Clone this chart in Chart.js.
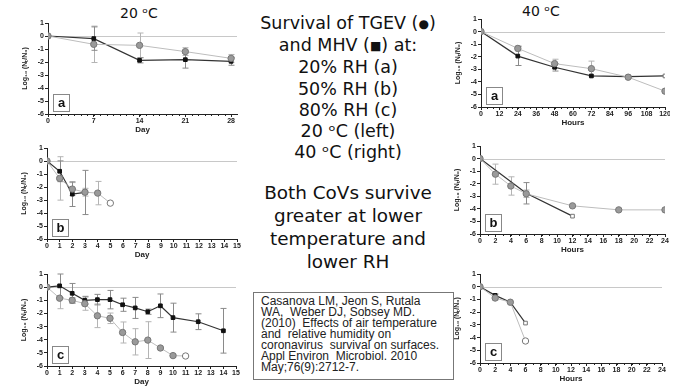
<!DOCTYPE html>
<html>
<head>
<meta charset="utf-8">
<script src="https://cdn.jsdelivr.net/npm/chart.js@4/dist/chart.umd.min.js"></script>
<style>
body { margin: 0; background: #fff; width: 688px; height: 386px; overflow: hidden; position: relative; font-family: "DejaVu Sans", sans-serif; color: #111; }
canvas { position: absolute; }
.ttl { position: absolute; font-size: 14px; }
.mid { position: absolute; left: 248px; width: 200px; text-align: center; }
.sm { font-size: 12px; vertical-align: 1px; }
.cite { position: absolute; left: 253px; top: 292px; width: 201px; height: 88px; border: 1px solid #777; box-sizing: border-box;
        font-family: "Liberation Sans", Arial, sans-serif; font-size: 12px; line-height: 11px; padding: 3px 0 0 7px; color: #222; white-space: nowrap; }
</style>
</head>
<body>
<div class="ttl" style="left:120px;top:5px">20 ᵒC</div>
<div class="ttl" style="left:522px;top:3px">40 ᵒC</div>
<div class="mid" style="top:13px;font-size:17.5px;line-height:21.2px">
Survival of TGEV (<span class="sm">●</span>)<br>and MHV (<span class="sm">■</span>) at:<br>20% RH (a)<br>50% RH (b)<br>80% RH (c)<br>20 ᵒC (left)<br>40 ᵒC (right)
</div>
<div class="mid" style="top:181px;font-size:18.4px;line-height:23px">
Both CoVs survive<br>greater at lower<br>temperature and<br>lower RH
</div>
<div class="cite">Casanova LM, Jeon S, Rutala<br>WA,&nbsp; Weber DJ, Sobsey MD.<br>(2010)&nbsp; Effects of air temperature<br>and&nbsp; relative humidity on<br>coronavirus&nbsp; survival on surfaces.<br>Appl Environ&nbsp; Microbiol. 2010<br>May;76(9):2712-7.</div>

<canvas id="l20a"></canvas>
<canvas id="l20b"></canvas>
<canvas id="l20c"></canvas>
<canvas id="r40a"></canvas>
<canvas id="r40b"></canvas>
<canvas id="r40c"></canvas>

<script>
// 20 oC, 20% RH (a)
const daysA20 = [0, 7, 14, 21, 28];
const tgevA20 = [0, -0.64, -0.72, -1.2, -1.72];
const tgevA20Err = [0, 1.4, 0.95, 0.3, 0.3];
const mhvA20 = [0, -0.2, -1.87, -1.82, -1.95];
const mhvA20Err = [0, 0.9, 0.2, 0.65, 0.3];

// 20 oC, 50% RH (b)
const tgevDaysB20 = [0, 1, 2, 3, 4, 5];
const tgevB20 = [0, -1.34, -2.16, -2.4, -2.47, -3.24];
const tgevB20Err = [0, 1.67, 0.5, 0.3, 0.9, 0];
const mhvDaysB20 = [0, 1, 2, 3];
const mhvB20 = [0, -0.79, -2.55, -2.42];
const mhvB20Err = [0, 0.8, 0.95, 1.7];

// 20 oC, 80% RH (c)
const tgevDaysC20 = [0, 1, 2, 3, 4, 5, 6, 7, 8, 9, 10, 11];
const tgevC20 = [0, -0.84, -1.0, -1.26, -2.18, -2.37, -3.45, -4.16, -4.03, -4.63, -5.21, -5.24];
const tgevC20Err = [0, 0.8, 0.2, 0.5, 0.9, 0.4, 0.8, 1.0, 1.4, 0.1, 0.1, 0];
const mhvDaysC20 = [0, 1, 2, 3, 4, 5, 6, 7, 8, 9, 10, 12, 14];
const mhvC20 = [0, 0.1, -0.47, -1.0, -0.95, -0.95, -1.34, -1.58, -1.87, -1.42, -2.32, -2.63, -3.32];
const mhvC20Err = [0, 0.9, 0.75, 0.3, 0.4, 0.7, 0.5, 0.8, 0.2, 0.9, 1.1, 0.6, 1.7];

// 40 oC, 20% RH (a)
const hoursA40 = [0, 24, 48, 72, 96, 120];
const tgevA40 = [0, -1.34, -2.55, -2.95, -3.63, -4.74];
const tgevA40Err = [0, 0.2, 0.35, 0.6, 0.1, 0];
const mhvA40 = [0, -1.95, -2.84, -3.53, -3.58, -3.53];
const mhvA40Err = [0, 0.75, 0.3, 0, 0, 0];

// 40 oC, 50% RH (b)
const tgevHoursB40 = [0, 2, 4, 6, 12, 18, 24];
const tgevB40 = [0, -1.24, -2.18, -2.8, -3.76, -4.08, -4.08];
const tgevB40Err = [0, 0.8, 0.73, 0.3, 0, 0, 0];
const mhvHoursB40 = [0, 6, 12];
const mhvB40 = [0, -2.76, -4.58];
const mhvB40Err = [0, 0.85, 0];

// 40 oC, 80% RH (c)
const hoursC40 = [0, 2, 4, 6];
const tgevC40 = [0, -0.89, -1.22, -4.27];
const tgevC40Err = [0, 0.15, 0, 0];
const mhvC40 = [0, -0.68, -1.22, -2.86];
const mhvC40Err = [0, 0.1, 0, 0];

// axis ticks
const dayTicksA = [0, 7, 14, 21, 28];
const dayTicks15 = [0, 1, 2, 3, 4, 5, 6, 7, 8, 9, 10, 11, 12, 13, 14, 15];
const hourTicks120 = [0, 12, 24, 36, 48, 60, 72, 84, 96, 108, 120];
const hourTicks24 = [0, 2, 4, 6, 8, 10, 12, 14, 16, 18, 20, 22, 24];
const logTicks = [1, 0, -1, -2, -3, -4, -5, -6];

const tickFont = { family: 'Liberation Sans', size: 7, weight: 'bold' };

function pts(xs, ys) {
    return xs.map((x, i) => ({ x: x, y: ys[i] }));
}

// light zero line, error bars, minor ticks and the a/b/c box
const extras = {
    id: 'extras',
    beforeDatasetsDraw(chart) {
        const ctx = chart.ctx, x = chart.scales.x, y = chart.scales.y;
        const y0 = Math.round(y.getPixelForValue(0)) + 0.5;
        ctx.save();
        ctx.strokeStyle = '#c8c8c8';
        ctx.lineWidth = 1;
        ctx.beginPath();
        ctx.moveTo(x.left, y0);
        ctx.lineTo(x.right, y0);
        ctx.stroke();
        chart.data.datasets.forEach((ds) => {
            ctx.strokeStyle = ds.errColor;
            ds.data.forEach((p, i) => {
                const e = ds.err[i];
                if (!e) return;
                const px = Math.round(x.getPixelForValue(p.x)) + 0.5;
                const top = y.getPixelForValue(p.y + e), bot = y.getPixelForValue(p.y - e);
                ctx.beginPath();
                ctx.moveTo(px, top); ctx.lineTo(px, bot);
                ctx.moveTo(px - 3, top); ctx.lineTo(px + 3, top);
                ctx.moveTo(px - 3, bot); ctx.lineTo(px + 3, bot);
                ctx.stroke();
            });
        });
        ctx.restore();
    },
    afterDraw(chart) {
        const ctx = chart.ctx, x = chart.scales.x, a = chart.chartArea, o = chart.options.plugins.extras;
        ctx.save();
        if (o.minor) {
            ctx.strokeStyle = '#222';
            ctx.lineWidth = 1;
            ctx.beginPath();
            for (let v = x.min; v <= x.max; v += o.minor) {
                const px = Math.round(x.getPixelForValue(v)) + 0.5;
                ctx.moveTo(px, a.bottom); ctx.lineTo(px, a.bottom + 2);
            }
            ctx.stroke();
        }
        const bx = a.left + 5, by = a.bottom - 20;
        ctx.fillStyle = '#fff';
        ctx.fillRect(bx, by, 16, 17);
        ctx.strokeStyle = '#888';
        ctx.strokeRect(bx + 0.5, by + 0.5, 16, 17);
        ctx.fillStyle = '#111';
        ctx.font = 'bold 13px "Liberation Sans"';
        ctx.textAlign = 'center';
        ctx.textBaseline = 'middle';
        ctx.fillText(o.letter, bx + 8.5, by + 9.5);
        ctx.restore();
    }
};

function makePanel(id, box, cfg) {
    const yw = 27, xh = 21, padTop = 6, padRight = 4;
    const cv = document.getElementById(id);
    const left = box.left - yw, top = box.top - padTop;
    cv.width = box.right - left + padRight;
    cv.height = box.bottom - top + xh;
    cv.style.left = left + 'px';
    cv.style.top = top + 'px';

    const last = (xs, i, flag) => flag && i === xs.length - 1;

    new Chart(cv, {
        type: 'line',
        data: {
            datasets: [{
                label: 'TGEV',
                data: pts(cfg.tgevX, cfg.tgevY),
                err: cfg.tgevErr,
                errColor: '#b4b4b4',
                borderColor: '#bdbdbd',
                borderWidth: 1,
                pointStyle: 'circle',
                pointRadius: 3.2,
                pointBackgroundColor: cfg.tgevX.map((_, i) => (last(cfg.tgevX, i, cfg.tgevOpen) ? '#fff' : '#9a9a9a')),
                pointBorderColor: '#777',
                pointBorderWidth: 1,
                tension: 0
            }, {
                label: 'MHV',
                data: pts(cfg.mhvX, cfg.mhvY),
                err: cfg.mhvErr,
                errColor: '#8a8a8a',
                borderColor: '#333',
                borderWidth: 1.2,
                pointStyle: 'rect',
                pointRadius: 2.6,
                pointBackgroundColor: cfg.mhvX.map((_, i) => (last(cfg.mhvX, i, cfg.mhvOpen) ? '#fff' : '#111')),
                pointBorderColor: cfg.mhvX.map((_, i) => (last(cfg.mhvX, i, cfg.mhvOpen) ? '#777' : '#111')),
                pointBorderWidth: 1,
                tension: 0
            }]
        },
        options: {
            responsive: false,
            animation: false,
            layout: { padding: { top: padTop, right: padRight, left: 0, bottom: 0 } },
            plugins: {
                legend: { display: false },
                tooltip: { enabled: false },
                extras: { letter: cfg.letter, minor: cfg.minor }
            },
            scales: {
                x: {
                    type: 'linear',
                    min: cfg.xMin,
                    max: cfg.xMax,
                    afterBuildTicks: (s) => { s.ticks = cfg.xTicks.map((v) => ({ value: v })); },
                    afterFit: (s) => { s.height = xh; s.paddingLeft = 0; s.paddingRight = 0; },
                    ticks: { font: tickFont, color: '#222', padding: 0, maxRotation: 0, autoSkip: false },
                    grid: { display: true, drawOnChartArea: false, drawTicks: true, tickLength: 3, color: '#222' },
                    border: { color: '#222', width: 1 },
                    title: { display: true, text: cfg.xTitle, font: { family: 'Liberation Sans', size: 8, weight: 'bold' }, color: '#222', padding: { top: 0, bottom: 0 } }
                },
                y: {
                    min: -6,
                    max: 1,
                    afterBuildTicks: (s) => { s.ticks = logTicks.map((v) => ({ value: v })); },
                    afterFit: (s) => { s.width = yw; s.paddingTop = 0; s.paddingBottom = 0; },
                    ticks: { font: tickFont, color: '#222', padding: 1 },
                    grid: { display: true, drawOnChartArea: false, drawTicks: true, tickLength: 3, color: '#222' },
                    border: { color: '#222', width: 1 },
                    title: { display: true, text: 'Log₁₀ (Nₜ/N₀)', font: { family: 'Liberation Sans', size: 7, weight: 'bold' }, color: '#222', padding: { top: 0, bottom: 2 } }
                }
            }
        },
        plugins: [extras]
    });
}

makePanel('l20a', { left: 48, right: 238, top: 23, bottom: 114 }, {
    tgevX: daysA20, tgevY: tgevA20, tgevErr: tgevA20Err,
    mhvX: daysA20, mhvY: mhvA20, mhvErr: mhvA20Err,
    xMin: 0, xMax: 28.9, xTicks: dayTicksA, xTitle: 'Day', letter: 'a', minor: 1
});
makePanel('l20b', { left: 47, right: 238, top: 148, bottom: 239 }, {
    tgevX: tgevDaysB20, tgevY: tgevB20, tgevErr: tgevB20Err, tgevOpen: true,
    mhvX: mhvDaysB20, mhvY: mhvB20, mhvErr: mhvB20Err,
    xMin: 0, xMax: 15, xTicks: dayTicks15, xTitle: 'Day', letter: 'b'
});
makePanel('l20c', { left: 47, right: 237, top: 274, bottom: 366 }, {
    tgevX: tgevDaysC20, tgevY: tgevC20, tgevErr: tgevC20Err, tgevOpen: true,
    mhvX: mhvDaysC20, mhvY: mhvC20, mhvErr: mhvC20Err,
    xMin: 0, xMax: 15, xTicks: dayTicks15, xTitle: 'Day', letter: 'c'
});
makePanel('r40a', { left: 481, right: 666, top: 19, bottom: 107 }, {
    tgevX: hoursA40, tgevY: tgevA40, tgevErr: tgevA40Err,
    mhvX: hoursA40, mhvY: mhvA40, mhvErr: mhvA40Err, mhvOpen: true,
    xMin: 0, xMax: 120, xTicks: hourTicks120, xTitle: 'Hours', letter: 'a', minor: 4
});
makePanel('r40b', { left: 480, right: 666, top: 146, bottom: 234 }, {
    tgevX: tgevHoursB40, tgevY: tgevB40, tgevErr: tgevB40Err,
    mhvX: mhvHoursB40, mhvY: mhvB40, mhvErr: mhvB40Err, mhvOpen: true,
    xMin: 0, xMax: 24, xTicks: hourTicks24, xTitle: 'Hours', letter: 'b', minor: 1
});
makePanel('r40c', { left: 480, right: 663, top: 274, bottom: 363 }, {
    tgevX: hoursC40, tgevY: tgevC40, tgevErr: tgevC40Err, tgevOpen: true,
    mhvX: hoursC40, mhvY: mhvC40, mhvErr: mhvC40Err, mhvOpen: true,
    xMin: 0, xMax: 24, xTicks: hourTicks24, xTitle: 'Hours', letter: 'c', minor: 1
});
</script>
</body>
</html>
